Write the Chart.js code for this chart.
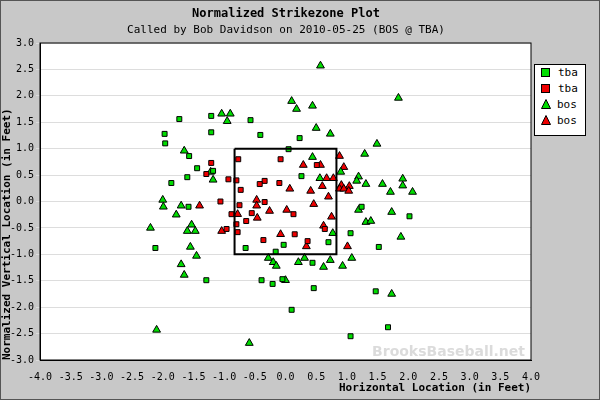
<!DOCTYPE html>
<html>
<head>
<meta charset="utf-8">
<script src="https://cdn.jsdelivr.net/npm/chart.js@4"></script>
<style>
  body { margin: 0; background: #c8c8c8; }
  #wrap { position: relative; width: 600px; height: 400px; box-sizing: border-box; border: 1px solid #555; }
  .t { position: absolute; left: 0; width: 570px; text-align: center; font-family: "DejaVu Sans Mono", monospace; color: #000; }
  #legend { position: absolute; left: 533px; top: 63px; width: 50px; height: 70px; background: #fff; border: 1px solid #000; font: 11px "DejaVu Sans Mono", monospace; }
  #legend div { height: 16px; line-height: 16px; margin-left: 6px; }
  .sq { display: inline-block; width: 7px; height: 7px; border: 1px solid #000; margin-right: 8px; vertical-align: -1px; }
  svg { margin-right: 6px; vertical-align: -1px; }
</style>
</head>
<body>
<div id="wrap">
  <canvas id="chart" width="598" height="398"></canvas>
  <div class="t" style="top:5px;font-size:12px;font-weight:bold;">Normalized Strikezone Plot</div>
  <div class="t" style="top:22px;font-size:11px;">Called by Bob Davidson on 2010-05-25 (BOS @ TBA)</div>
  <div id="legend">
    <div><span class="sq" style="background:#00dd00"></span>tba</div>
    <div><span class="sq" style="background:#ee0000"></span>tba</div>
    <div><svg width="10" height="10"><polygon points="5,0.5 9.5,9.5 0.5,9.5" fill="#00dd00" stroke="#000"/></svg>bos</div>
    <div><svg width="10" height="10"><polygon points="5,0.5 9.5,9.5 0.5,9.5" fill="#ee0000" stroke="#000"/></svg>bos</div>
  </div>
</div>
<script>
// tba pitches called balls (green) / strikes (red), squares
const tbaBallX = [-1.73,-1.97,-1.96,-1.21,-1.21,-0.57,-0.41,0.23,0.05,-1.57,-1.44,-1.18,-1.6,-1.86,-1.58,0.26,1.24,-2.12,-1.29,-0.65,-0.03,-0.16,-0.39,-0.21,-0.05,0.1,2.02,1.06,0.7,1.52,0.44,0.46,1.47,1.67,1.06];
const tbaBallY = [1.56,1.28,1.1,1.62,1.31,1.54,1.26,1.2,0.99,0.86,0.63,0.58,0.46,0.35,-0.1,0.48,-0.1,-0.88,-1.49,-0.88,-0.82,-0.95,-1.49,-1.56,-1.47,-2.05,-0.28,-0.6,-0.77,-0.86,-1.16,-1.64,-1.7,-2.38,-2.55];
const tbaStrikeX = [-1.21,-1.29,-0.77,-0.08,-0.93,-0.8,-0.34,-0.42,-0.1,-0.73,-1.06,-0.75,-0.34,0.51,-0.88,-0.55,-0.64,-0.8,-0.96,-0.78,-0.36,0.15,0.13,0.36,0.64];
const tbaStrikeY = [0.73,0.52,0.8,0.8,0.42,0.4,0.39,0.33,0.35,0.22,0,-0.07,-0.01,0.69,-0.24,-0.22,-0.37,-0.43,-0.52,-0.58,-0.73,-0.62,-0.24,-0.75,-0.52];
// bos pitches, triangles
const bosBallX = [0.1,0.18,-1.04,-0.9,-0.95,-1.65,-1.22,-1.18,-2.0,-1.99,-1.7,0.57,0.44,1.84,0.5,0.73,1.49,0.44,1.29,0.9,0.56,1.19,1.16,1.31,1.58,1.91,1.91,1.71,2.07,-1.78,-2.2,-1.53,-1.6,-1.47,-1.55,-1.45,-1.7,-1.65,-2.1,-0.59,-0.28,-0.2,-0.15,0.21,0,1.19,1.73,1.31,1.39,1.88,0.77,0.31,0.73,0.62,0.93,1.08,1.73];
const bosBallY = [1.9,1.75,1.66,1.66,1.52,0.96,0.56,0.41,0.03,-0.1,-0.08,2.57,1.81,1.96,1.39,1.28,1.09,0.84,0.9,0.56,0.44,0.47,0.39,0.33,0.33,0.43,0.3,0.18,0.18,-0.25,-0.5,-0.44,-0.56,-0.56,-0.86,-1.03,-1.19,-1.39,-2.43,-2.68,-1.07,-1.15,-1.22,-1.15,-1.49,-0.16,-0.2,-0.39,-0.37,-0.67,-0.6,-1.07,-1.11,-1.24,-1.22,-1.07,-1.75];
const bosStrikeX = [-1.4,-0.47,-0.47,0.07,0.29,0.57,0.88,0.95,0.67,0.78,0.6,0.41,0.91,1.04,0.88,0.95,1.03,0.7,0.46,-0.78,-0.26,0.02,-0.46,-1.04,-0.08,0.75,0.62,0.34,1.01];
const bosStrikeY = [-0.08,0.03,-0.08,0.24,0.69,0.69,0.86,0.65,0.44,0.44,0.29,0.2,0.31,0.29,0.24,0.24,0.2,0.09,-0.05,-0.24,-0.18,-0.16,-0.31,-0.56,-0.62,-0.29,-0.46,-0.85,-0.85];
const zoneX = [-0.83, 0.83, 0.83, -0.83, -0.83];
const zoneY = [1.0, 1.0, -1.0, -1.0, 1.0];
const xTicks = [-4.0,-3.5,-3.0,-2.5,-2.0,-1.5,-1.0,-0.5,0.0,0.5,1.0,1.5,2.0,2.5,3.0,3.5,4.0];

const pts = (xs, ys) => xs.map((x, i) => ({x: x, y: ys[i]}));
const green = '#00dd00', red = '#ee0000';

function markSet(label, xs, ys, color, style, r) {
    return {
        label: label, type: 'scatter', data: pts(xs, ys),
        pointStyle: style, pointRadius: r, pointHoverRadius: r,
        backgroundColor: color, borderColor: '#000', borderWidth: 1
    };
}

const bgPlugin = {
    id: 'bg',
    beforeDraw(chart) {
        const {ctx, chartArea: a} = chart;
        ctx.save();
        ctx.fillStyle = '#fff';
        ctx.fillRect(a.left, a.top, a.right - a.left, a.bottom - a.top);
        ctx.restore();
    },
    afterDatasetsDraw(chart) {
        const {ctx, chartArea: a} = chart;
        ctx.save();
        ctx.font = 'bold 14px "DejaVu Sans"';
        ctx.fillStyle = 'rgba(210,210,210,0.8)';
        ctx.textAlign = 'right';
        ctx.fillText('BrooksBaseball.net', a.right - 6, a.bottom - 4);
        ctx.strokeStyle = '#000';
        ctx.strokeRect(a.left, a.top, a.right - a.left, a.bottom - a.top);
        ctx.restore();
    }
};

const font = {family: '"DejaVu Sans Mono", monospace', size: 10};

new Chart(document.getElementById('chart'), {
    type: 'scatter',
    data: {
        datasets: [
            {label: 'zone', type: 'line', data: pts(zoneX, zoneY), borderColor: '#000', borderWidth: 2, pointRadius: 0, fill: false, tension: 0},
            markSet('tba', tbaBallX, tbaBallY, green, 'rect', 3.5),
            markSet('tba', tbaStrikeX, tbaStrikeY, red, 'rect', 3.5),
            markSet('bos', bosBallX, bosBallY, green, 'triangle', 4.5),
            markSet('bos', bosStrikeX, bosStrikeY, red, 'triangle', 4.5)
        ]
    },
    options: {
        responsive: false,
        animation: false,
        layout: {padding: {top: 42, right: 68}},
        plugins: {legend: {display: false}, tooltip: {enabled: false}},
        scales: {
            x: {
                min: -4, max: 4,
                afterBuildTicks(s) { s.ticks = xTicks.map(v => ({value: v})); },
                afterFit(s) { s.height = 39; },
                grid: {display: false},
                border: {color: '#000'},
                ticks: {color: '#000', font: font, maxRotation: 0, callback: v => v.toFixed(1)},
                title: {display: true, text: 'Horizontal Location (in Feet)', color: '#000', align: 'end', padding: {top: -3}, font: {family: font.family, size: 11, weight: 'bold'}}
            },
            y: {
                min: -3, max: 3,
                afterFit(s) { s.width = 39; },
                grid: {color: '#ddd', drawTicks: true, tickLength: 4},
                border: {color: '#000'},
                ticks: {color: '#000', font: font, stepSize: 0.5, padding: 2, callback: v => v.toFixed(1)},
                title: {display: true, text: 'Normalized Vertical Location (in Feet)', color: '#000', align: 'start', padding: 0, font: {family: font.family, size: 11, weight: 'bold'}}
            }
        }
    },
    plugins: [bgPlugin]
});
</script>
</body>
</html>
